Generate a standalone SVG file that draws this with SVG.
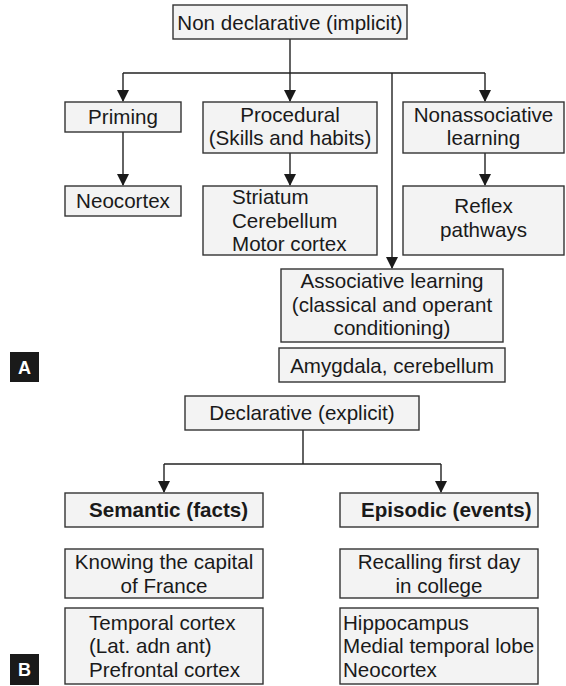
<svg xmlns="http://www.w3.org/2000/svg" width="566" height="686" viewBox="0 0 566 686">
<style>
.box{fill:#f3f3f3;stroke:#333;stroke-width:1.4}
.t{font-family:"Liberation Sans",Arial,sans-serif;font-size:20.6px;fill:#1a1a1a}
.c{text-anchor:middle}
.b{font-weight:bold}
.ln{fill:none;stroke:#222;stroke-width:1.4}
.ar{marker-end:url(#ah)}
.lab{fill:#1a1a1a}
.labt{font-family:"Liberation Sans",Arial,sans-serif;font-size:18px;font-weight:bold;fill:#fff;text-anchor:middle}
</style>
<defs>
<marker id="ah" viewBox="0 0 12 12" refX="11" refY="6" markerWidth="12" markerHeight="12" markerUnits="userSpaceOnUse" orient="auto">
<path d="M0,0 L12,6 L0,12 z" fill="#1a1a1a"/>
</marker>
</defs>
<rect width="566" height="686" fill="#fff"/>
<g id="connectors">
<line class="ln" x1="290" y1="39" x2="290" y2="73"/>
<line class="ln" x1="123" y1="73" x2="485" y2="73"/>
<line class="ln ar" x1="290" y1="73" x2="290" y2="101"/>
<line class="ln ar" x1="123" y1="73" x2="123" y2="101"/>
<line class="ln ar" x1="485" y1="73" x2="485" y2="101"/>
<line class="ln ar" x1="392" y1="73" x2="392" y2="268"/>
<line class="ln ar" x1="123" y1="132" x2="123" y2="185"/>
<line class="ln ar" x1="290" y1="153" x2="290" y2="185"/>
<line class="ln ar" x1="485" y1="153" x2="485" y2="185"/>
<line class="ln" x1="303" y1="430" x2="303" y2="464"/>
<line class="ln" x1="164" y1="464" x2="441" y2="464"/>
<line class="ln ar" x1="164" y1="464" x2="164" y2="492"/>
<line class="ln ar" x1="441" y1="464" x2="441" y2="492"/>
</g>
<g id="nondeclarative">
<rect class="box" x="173" y="5" width="234" height="34"/>
<text class="t c" x="290" y="29.5">Non declarative (implicit)</text>
</g>
<g id="priming">
<rect class="box" x="65" y="102" width="116" height="30"/>
<text class="t c" x="123" y="124">Priming</text>
</g>
<g id="procedural">
<rect class="box" x="203" y="102" width="174" height="51"/>
<text class="t c" x="290" y="121.5">Procedural</text>
<text class="t c" x="290" y="144.5">(Skills and habits)</text>
</g>
<g id="nonassociative">
<rect class="box" x="403" y="102" width="161" height="51"/>
<text class="t c" x="483.5" y="121.5">Nonassociative</text>
<text class="t c" x="483.5" y="144.5">learning</text>
</g>
<g id="neocortex">
<rect class="box" x="65" y="186" width="116" height="30"/>
<text class="t c" x="123" y="208">Neocortex</text>
</g>
<g id="striatum">
<rect class="box" x="203" y="186" width="174" height="69"/>
<text class="t" x="232" y="204">Striatum</text>
<text class="t" x="232" y="228">Cerebellum</text>
<text class="t" x="232" y="251">Motor cortex</text>
</g>
<g id="reflex">
<rect class="box" x="403" y="186" width="161" height="69"/>
<text class="t c" x="483.5" y="213">Reflex</text>
<text class="t c" x="483.5" y="237">pathways</text>
</g>
<g id="associative">
<rect class="box" x="281" y="269" width="222" height="73"/>
<text class="t c" x="392" y="288">Associative learning</text>
<text class="t c" x="392" y="312">(classical and operant</text>
<text class="t c" x="392" y="335">conditioning)</text>
</g>
<g id="amygdala">
<rect class="box" x="279" y="348" width="226" height="34"/>
<text class="t c" x="392" y="372.5">Amygdala, cerebellum</text>
</g>
<g id="labelA">
<rect class="lab" x="10" y="352" width="29" height="30"/>
<text class="labt" x="24.5" y="373.5">A</text>
</g>
<g id="declarative">
<rect class="box" x="185" y="396" width="234" height="34"/>
<text class="t c" x="302" y="420">Declarative (explicit)</text>
</g>
<g id="semantic">
<rect class="box" x="65" y="493" width="198" height="34"/>
<text class="t b" x="89" y="516.5">Semantic (facts)</text>
</g>
<g id="episodic">
<rect class="box" x="340" y="493" width="198" height="34"/>
<text class="t b" x="361" y="516.5">Episodic (events)</text>
</g>
<g id="knowing">
<rect class="box" x="65" y="549" width="198" height="49"/>
<text class="t c" x="164" y="569">Knowing the capital</text>
<text class="t c" x="164" y="593">of France</text>
</g>
<g id="recalling">
<rect class="box" x="340" y="549" width="198" height="49"/>
<text class="t c" x="439" y="569">Recalling first day</text>
<text class="t c" x="439" y="593">in college</text>
</g>
<g id="temporal">
<rect class="box" x="65" y="608" width="198" height="76"/>
<text class="t" x="89" y="630">Temporal cortex</text>
<text class="t" x="89" y="653">(Lat. adn ant)</text>
<text class="t" x="89" y="676.5">Prefrontal cortex</text>
</g>
<g id="hippocampus">
<rect class="box" x="340" y="608" width="198" height="76"/>
<text class="t" x="343" y="630">Hippocampus</text>
<text class="t" x="343" y="653">Medial temporal lobe</text>
<text class="t" x="343" y="676.5">Neocortex</text>
</g>
<g id="labelB">
<rect class="lab" x="10" y="654" width="29" height="31"/>
<text class="labt" x="24.5" y="676">B</text>
</g>
</svg>
